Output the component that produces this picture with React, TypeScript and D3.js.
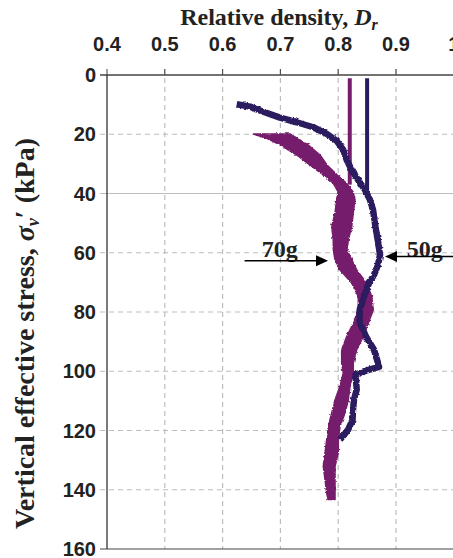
import React from "react";
import * as d3 from "d3";

// Axis ticks
const densityTicks = [0.4, 0.5, 0.6, 0.7, 0.8, 0.9, 1.0];
const densityTickLabels = ["0.4", "0.5", "0.6", "0.7", "0.8", "0.9", "1"];
const stressTicks = [0, 20, 40, 60, 80, 100, 120, 140, 160];

// 70g test: relative density band (left edge, right edge) versus stress (kPa)
const g70Stress = [19.9, 21.35, 23.6, 27.0, 30.35, 33.7, 36.4, 39.4, 42.2, 46.5, 51.2, 55.6, 59.0, 62.4, 65.8, 70.25, 74.8, 79.3, 83.7, 88.3, 92.75, 97.2, 100.6, 105.1, 109.6, 114.1, 118.6, 123.1, 127.6, 132.1, 136.6, 141.1, 143.3];
const g70DrLeft = [0.653, 0.6763, 0.6993, 0.7282, 0.7508, 0.7742, 0.791, 0.7997, 0.7974, 0.7945, 0.7888, 0.7915, 0.7915, 0.7945, 0.8031, 0.8234, 0.8348, 0.8348, 0.8261, 0.8147, 0.806, 0.806, 0.8088, 0.8031, 0.7945, 0.7888, 0.7829, 0.7801, 0.7772, 0.7742, 0.7772, 0.7801, 0.7824];
const g70DrRight = [0.7166, 0.7287, 0.7478, 0.7685, 0.7806, 0.7979, 0.8135, 0.8256, 0.8291, 0.8261, 0.8234, 0.8175, 0.8152, 0.8234, 0.832, 0.8493, 0.858, 0.8607, 0.8521, 0.8434, 0.832, 0.8261, 0.8261, 0.8204, 0.8175, 0.8118, 0.8031, 0.8002, 0.8002, 0.7945, 0.7945, 0.7945, 0.7945];

// 50g test: relative density trace versus stress (kPa)
const g50Stress = [9.88, 10.69, 12.38, 14.4, 15.95, 17.64, 19.9, 22.26, 25.3, 28.67, 32.04, 35.4, 38.8, 42.16, 45.5, 51.2, 56.8, 60.7, 64.1, 67.45, 70.25, 74.8, 79.3, 83.7, 88.3, 92.75, 97.2, 98.5, 99.8, 101.2, 102.9, 106.2, 109.6, 113.0, 116.4, 119.8, 123.1];
const g50Dr = [0.6244, 0.6474, 0.6704, 0.6993, 0.7282, 0.7569, 0.7801, 0.7974, 0.8088, 0.8147, 0.8234, 0.8343, 0.8464, 0.855, 0.8602, 0.8645, 0.8694, 0.8723, 0.8689, 0.862, 0.8533, 0.8447, 0.8369, 0.8377, 0.8481, 0.8619, 0.8689, 0.8706, 0.8481, 0.8291, 0.8308, 0.832, 0.8273, 0.8256, 0.8248, 0.817, 0.8031];

// Initial (pre-flight) density profiles
const initialDr = [0.82, 0.85];
const initialStressFrom = [1.1, 1.1];
const initialStressTo = [37, 39];

const COLOR_70 = "#761c6c";
const COLOR_50 = "#2c1a5f";
const SERIF = "'Liberation Serif', 'Times New Roman', serif";
const SANS = "'Liberation Sans', Arial, sans-serif";

export default function App() {
  const W = 453;
  const H = 558;
  const x = d3.scaleLinear().domain([0.4, 1.0]).range([107, 453.8]);
  const y = d3.scaleLinear().domain([0, 160]).range([75, 549]);

  const band70 = g70Stress.map((s, i) => [s, g70DrLeft[i], g70DrRight[i]] as [number, number, number]);
  const area70 = d3
    .area<[number, number, number]>()
    .y((d) => y(d[0]))
    .x0((d) => x(d[1]))
    .x1((d) => x(d[2]))(band70) as string;

  const trace50 = g50Stress.map((s, i) => [g50Dr[i], s] as [number, number]);
  const line50 = d3
    .line<[number, number]>()
    .x((d) => x(d[0]))
    .y((d) => y(d[1]))(trace50) as string;

  const plotLeft = x(0.4);
  const plotRight = x(1.0);
  const plotTop = y(0);
  const plotBottom = y(160);

  // Arrow annotations (data coordinates)
  const arrow70 = { from: 0.638, to: 0.7824, s: 62.7 };
  const arrow50 = { from: 1.0, to: 0.881, s: 61.3 };

  const head = (tipX: number, tipY: number, dir: number) => {
    const len = 12;
    const half = 5.5;
    return `M${tipX},${tipY} L${tipX - dir * len},${tipY - half} L${tipX - dir * len},${tipY + half} Z`;
  };

  return (
    <svg
      width={W}
      height={H}
      viewBox={`0 0 ${W} ${H}`}
      style={{ position: "absolute", left: 0, top: 0, background: "#fff" }}
    >
      <defs>
        {/* slightly ragged edges for the measured traces */}
        <filter id="rough" x="-10%" y="-10%" width="120%" height="120%">
          <feTurbulence type="fractalNoise" baseFrequency="0.35" numOctaves={2} seed={3} result="noise" />
          <feDisplacementMap in="SourceGraphic" in2="noise" scale={3} xChannelSelector="R" yChannelSelector="G" />
        </filter>
      </defs>
      <rect x={0} y={0} width={W} height={H} fill="#fff" />

      {/* vertical grid */}
      {densityTicks.slice(1).map((t) => (
        <line
          key={`vx${t}`}
          x1={x(t)}
          x2={x(t)}
          y1={plotTop - 6}
          y2={plotBottom}
          stroke="#bdbdbd"
          strokeWidth={1.2}
          strokeDasharray="5,4"
        />
      ))}
      {/* horizontal grid */}
      {stressTicks.slice(1, -1).map((t) => (
        <line
          key={`hy${t}`}
          x1={plotLeft - 7}
          x2={plotRight}
          y1={y(t)}
          y2={y(t)}
          stroke="#bdbdbd"
          strokeWidth={1.2}
          strokeDasharray={t === 40 ? undefined : "5,4"}
        />
      ))}

      {/* axes */}
      <line x1={plotLeft - 7} x2={plotRight} y1={plotTop} y2={plotTop} stroke="#444" strokeWidth={1.5} />
      {densityTicks.map((t) => (
        <line key={`tx${t}`} x1={x(t)} x2={x(t)} y1={plotTop - 6} y2={plotTop} stroke="#444" strokeWidth={1} />
      ))}
      <line x1={plotLeft} x2={plotLeft} y1={plotTop} y2={plotBottom} stroke="#222" strokeWidth={1.2} />
      <line x1={plotLeft - 7} x2={plotRight} y1={plotBottom} y2={plotBottom} stroke="#444" strokeWidth={1.2} />

      {/* tick labels */}
      {densityTicks.map((t, i) => (
        <text
          key={`lx${t}`}
          x={x(t)}
          y={51}
          textAnchor="middle"
          fontFamily={SANS}
          fontWeight="bold"
          fontSize={20}
          fill="#222"
        >
          {densityTickLabels[i]}
        </text>
      ))}
      {stressTicks.map((t) => (
        <text
          key={`ly${t}`}
          x={96}
          y={y(t)}
          dy="0.36em"
          textAnchor="end"
          fontFamily={SANS}
          fontWeight="bold"
          fontSize={20}
          fill="#222"
        >
          {t}
        </text>
      ))}

      {/* axis titles */}
      <text x={279} y={25} textAnchor="middle" fontFamily={SERIF} fontWeight="bold" fontSize={24} fill="#222">
        Relative density,{" "}
        <tspan fontStyle="italic">D</tspan>
        <tspan fontStyle="italic" fontSize={16} dy={5}>r</tspan>
      </text>
      <text
        transform="translate(34,138) rotate(-90)"
        textAnchor="end"
        fontFamily={SERIF}
        fontWeight="bold"
        fontSize={28}
        fill="#222"
      >
        Vertical effective stress,{" "}
        <tspan fontStyle="italic">σ</tspan>
        <tspan fontStyle="italic" fontSize={18} dy={5}>v</tspan>
        <tspan dy={-5}>′ (kPa)</tspan>
      </text>

      {/* initial profiles */}
      {initialDr.map((dr, i) => (
        <line
          key={`init${i}`}
          x1={x(dr)}
          x2={x(dr)}
          y1={y(initialStressFrom[i])}
          y2={y(initialStressTo[i])}
          stroke={i === 0 ? COLOR_70 : COLOR_50}
          strokeWidth={4}
        />
      ))}

      <g filter="url(#rough)">
        {/* 70g band */}
        <path d={area70} fill={COLOR_70} stroke={COLOR_70} strokeWidth={1.5} strokeLinejoin="round" />
        {/* 50g trace */}
        <path d={line50} fill="none" stroke={COLOR_50} strokeWidth={6.5} strokeLinejoin="round" />
      </g>

      {/* annotations */}
      <text x={261.7} y={256.7} fontFamily={SERIF} fontWeight="bold" fontSize={24} fill="#222">
        70g
      </text>
      <line
        x1={x(arrow70.from)}
        x2={x(arrow70.to) - 10}
        y1={y(arrow70.s)}
        y2={y(arrow70.s)}
        stroke="#000"
        strokeWidth={1.5}
      />
      <path d={head(x(arrow70.to), y(arrow70.s), 1)} fill="#000" />

      <text x={406.7} y={256.7} fontFamily={SERIF} fontWeight="bold" fontSize={24} fill="#222">
        50g
      </text>
      <line
        x1={x(arrow50.from)}
        x2={x(arrow50.to) + 10}
        y1={y(arrow50.s)}
        y2={y(arrow50.s)}
        stroke="#000"
        strokeWidth={1.5}
      />
      <path d={head(x(arrow50.to), y(arrow50.s), -1)} fill="#000" />
    </svg>
  );
}
